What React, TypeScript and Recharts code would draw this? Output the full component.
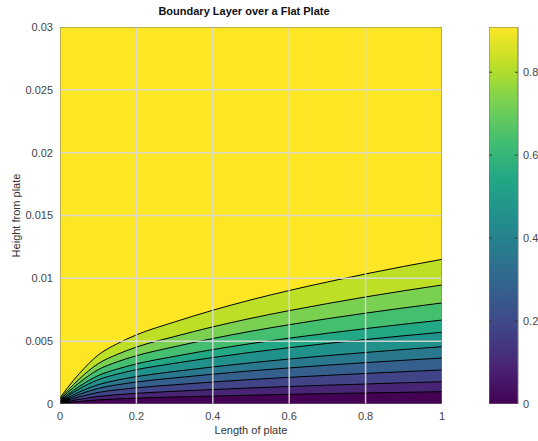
import React from 'react';
import { ComposedChart, Area, Line, XAxis, YAxis } from 'recharts';

// x positions along the plate where the contours were read
const plateX = [0, 0.02, 0.05, 0.1, 0.15, 0.2, 0.3, 0.4, 0.5, 0.6, 0.7, 0.8, 0.9, 1];

// contour line heights (top contour first)
const contour1 = [0.0005, 0.0013, 0.0024, 0.0039, 0.0048, 0.0055, 0.00653, 0.00746, 0.00829, 0.00903, 0.00971, 0.01035, 0.01095, 0.01151];
const contour2 = [0.00041, 0.00107, 0.00198, 0.00321, 0.00395, 0.00453, 0.00537, 0.00614, 0.00682, 0.00743, 0.00799, 0.00852, 0.00901, 0.00947];
const contour3 = [0.00035, 0.00091, 0.00168, 0.00273, 0.00336, 0.00384, 0.00456, 0.00521, 0.00579, 0.00631, 0.00679, 0.00723, 0.00765, 0.00804];
const contour4 = [0.00029, 0.00075, 0.00139, 0.00226, 0.00278, 0.00319, 0.00379, 0.00433, 0.00481, 0.00524, 0.00563, 0.006, 0.00635, 0.00668];
const contour5 = [0.00025, 0.00064, 0.00119, 0.00193, 0.00238, 0.00273, 0.00324, 0.0037, 0.00411, 0.00448, 0.00482, 0.00513, 0.00543, 0.00571];
const contour6 = [0.0002, 0.00051, 0.00095, 0.00154, 0.0019, 0.00218, 0.00259, 0.00295, 0.00328, 0.00358, 0.00385, 0.0041, 0.00434, 0.00456];
const contour7 = [0.00016, 0.00041, 0.00076, 0.00124, 0.00153, 0.00175, 0.00208, 0.00237, 0.00264, 0.00287, 0.00309, 0.00329, 0.00348, 0.00366];
const contour8 = [0.00012, 0.00031, 0.00056, 0.00092, 0.00113, 0.00129, 0.00153, 0.00175, 0.00195, 0.00212, 0.00228, 0.00243, 0.00257, 0.00271];
const contour9 = [0.00008, 0.0002, 0.00037, 0.0006, 0.00074, 0.00085, 0.00101, 0.00115, 0.00128, 0.00139, 0.0015, 0.00159, 0.00169, 0.00177];
const contour10 = [0.00004, 0.00011, 0.0002, 0.00033, 0.00041, 0.00047, 0.00056, 0.00063, 0.0007, 0.00077, 0.00083, 0.00088, 0.00093, 0.00098];

const contours = [contour1, contour2, contour3, contour4, contour5, contour6, contour7, contour8, contour9, contour10];

// fill colour of the band just below each contour
const bandColors = ['#bddf26', '#7ad151', '#44bf70', '#22a884', '#21918c', '#2a788e', '#355f8d', '#414487', '#482475', '#440154'];
const topBandColor = '#fde725';

// dark patch near the leading edge
const edgePatchX = [0, 0.025];
const edgePatchY = 0.0005;

const xTicks = [0, 0.2, 0.4, 0.6, 0.8, 1];
const yTicks = [0, 0.005, 0.01, 0.015, 0.02, 0.025, 0.03];

const colorbarTicks = [0, 0.2, 0.4, 0.6, 0.8];
const colorbarMax = 0.909;
const viridis = ['#440154', '#482475', '#414487', '#355f8d', '#2a788e', '#21918c', '#22a884', '#44bf70', '#7ad151', '#bddf26', '#fde725'];

const FONT = '"Liberation Sans", Arial, Helvetica, sans-serif';
const TICK_STYLE = { fontSize: 11, fill: '#444', fontFamily: FONT };
const GRID_COLOR = '#d9d9d9';
const FRAME_COLOR = '#777';

const rows = plateX.map((x, i) => {
  const r: Record<string, number> = { x };
  contours.forEach((c, k) => {
    r['c' + k] = c[i];
  });
  return r;
});

const xMin = xTicks[0];
const xMax = xTicks[xTicks.length - 1];
const yMin = yTicks[0];
const yMax = yTicks[yTicks.length - 1];

const backgroundData = [
  { x: xMin, v: yMax },
  { x: xMax, v: yMax },
];
const edgePatchData = edgePatchX.map((x) => ({ x, v: edgePatchY }));
const frameData = [
  { x: xMin, v: yMin },
  { x: xMax, v: yMin },
  { x: xMax, v: yMax },
  { x: xMin, v: yMax },
  { x: xMin, v: yMin },
];

const fmt = (v: number) => String(v);

function YLabel(props: any) {
  const vb = props.viewBox || { x: 0, y: 27, width: 60, height: 377 };
  const cx = vb.x + 16;
  const cy = vb.y + vb.height / 2;
  return (
    <text
      x={cx}
      y={cy}
      transform={`rotate(-90 ${cx} ${cy})`}
      textAnchor="middle"
      dominantBaseline="central"
      style={{ fontSize: 11, fill: '#333', fontFamily: FONT }}
    >
      Height from plate
    </text>
  );
}

function MainPlot() {
  return (
    <ComposedChart width={460} height={441} data={rows} margin={{ top: 27, right: 18, bottom: 0, left: 0 }}>
      <XAxis
        type="number"
        dataKey="x"
        domain={[xMin, xMax]}
        ticks={xTicks}
        allowDataOverflow
        tickLine={false}
        axisLine={false}
        tickSize={4}
        tickMargin={4}
        height={37}
        tick={TICK_STYLE}
        tickFormatter={fmt}
        label={{ value: 'Length of plate', position: 'insideBottom', offset: 7, style: { fontSize: 11, fill: '#333', fontFamily: FONT } }}
      />
      <YAxis
        type="number"
        domain={[yMin, yMax]}
        ticks={yTicks}
        allowDataOverflow
        tickLine={false}
        axisLine={false}
        tickSize={4}
        tickMargin={3}
        width={60}
        tick={TICK_STYLE}
        tickFormatter={fmt}
        label={<YLabel />}
      />
      <Area
        data={backgroundData}
        dataKey="v"
        type="linear"
        fill={topBandColor}
        fillOpacity={1}
        stroke="none"
        isAnimationActive={false}
      />
      {contours.map((_, k) => (
        <Area
          key={'c' + k}
          dataKey={'c' + k}
          type="monotone"
          fill={bandColors[k]}
          fillOpacity={1}
          stroke="#000"
          strokeWidth={1}
          isAnimationActive={false}
        />
      ))}
      <Area
        data={edgePatchData}
        dataKey="v"
        type="linear"
        fill="#000"
        fillOpacity={1}
        stroke="none"
        isAnimationActive={false}
      />
      {xTicks.slice(1, -1).map((t) => (
        <Line
          key={'gx' + t}
          data={[{ x: t, v: yMin }, { x: t, v: yMax }]}
          dataKey="v"
          type="linear"
          stroke={GRID_COLOR}
          strokeOpacity={0.9}
          strokeWidth={1.5}
          dot={false}
          activeDot={false}
          isAnimationActive={false}
        />
      ))}
      {yTicks.slice(1, -1).map((t) => (
        <Line
          key={'gy' + t}
          data={[{ x: xMin, v: t }, { x: xMax, v: t }]}
          dataKey="v"
          type="linear"
          stroke={GRID_COLOR}
          strokeOpacity={0.9}
          strokeWidth={1.5}
          dot={false}
          activeDot={false}
          isAnimationActive={false}
        />
      ))}
      <Line
        data={frameData}
        dataKey="v"
        type="linear"
        stroke={FRAME_COLOR}
        strokeWidth={1}
        dot={false}
        activeDot={false}
        isAnimationActive={false}
      />
    </ComposedChart>
  );
}

const cbFill = [
  { x: 0, v: colorbarMax },
  { x: 1, v: colorbarMax },
];
const cbFrame = [
  { x: 0, v: 0 },
  { x: 1, v: 0 },
  { x: 1, v: colorbarMax },
  { x: 0, v: colorbarMax },
  { x: 0, v: 0 },
];

function ColorBar() {
  return (
    <ComposedChart width={49} height={441} data={cbFill} margin={{ top: 27, right: 0, bottom: 37, left: 0 }}>
      <XAxis type="number" dataKey="x" domain={[0, 1]} hide />
      <YAxis
        type="number"
        orientation="right"
        domain={[0, colorbarMax]}
        ticks={colorbarTicks}
        allowDataOverflow
        tickLine={false}
        axisLine={false}
        tickSize={2}
        tickMargin={3}
        width={20}
        tick={TICK_STYLE}
        tickFormatter={fmt}
      />
      <Area
        dataKey="v"
        type="linear"
        fill="url(#viridisGrad)"
        fillOpacity={1}
        stroke="none"
        isAnimationActive={false}
      />
      {colorbarTicks.slice(1).map((t) => (
        <Line
          key={'tl' + t}
          data={[{ x: 0, v: t }, { x: 0.1, v: t }]}
          dataKey="v"
          type="linear"
          stroke="#333"
          strokeWidth={1}
          dot={false}
          activeDot={false}
          isAnimationActive={false}
        />
      ))}
      {colorbarTicks.slice(1).map((t) => (
        <Line
          key={'tr' + t}
          data={[{ x: 0.9, v: t }, { x: 1, v: t }]}
          dataKey="v"
          type="linear"
          stroke="#333"
          strokeWidth={1}
          dot={false}
          activeDot={false}
          isAnimationActive={false}
        />
      ))}
      <Line
        data={cbFrame}
        dataKey="v"
        type="linear"
        stroke={FRAME_COLOR}
        strokeWidth={1}
        dot={false}
        activeDot={false}
        isAnimationActive={false}
      />
    </ComposedChart>
  );
}

export default function App() {
  return (
    <div style={{ position: 'absolute', left: 0, top: 0, width: 538, height: 441, fontFamily: FONT, background: '#fff', overflow: 'hidden' }}>
      <svg width={0} height={0} style={{ position: 'absolute' }}>
        <defs>
          <linearGradient id="viridisGrad" x1="0" y1="1" x2="0" y2="0">
            {viridis.map((c, i) => (
              <stop key={c} offset={i / (viridis.length - 1)} stopColor={c} />
            ))}
          </linearGradient>
        </defs>
      </svg>
      <div
        style={{
          position: 'absolute',
          left: 0,
          top: 3,
          width: 488,
          textAlign: 'center',
          fontSize: 11,
          fontWeight: 'bold',
          lineHeight: '16px',
          color: '#111',
        }}
      >
        Boundary Layer over a Flat Plate
      </div>
      <div style={{ position: 'absolute', left: 0, top: 0 }}>
        <MainPlot />
      </div>
      <div style={{ position: 'absolute', left: 489, top: 0 }}>
        <ColorBar />
      </div>
    </div>
  );
}
